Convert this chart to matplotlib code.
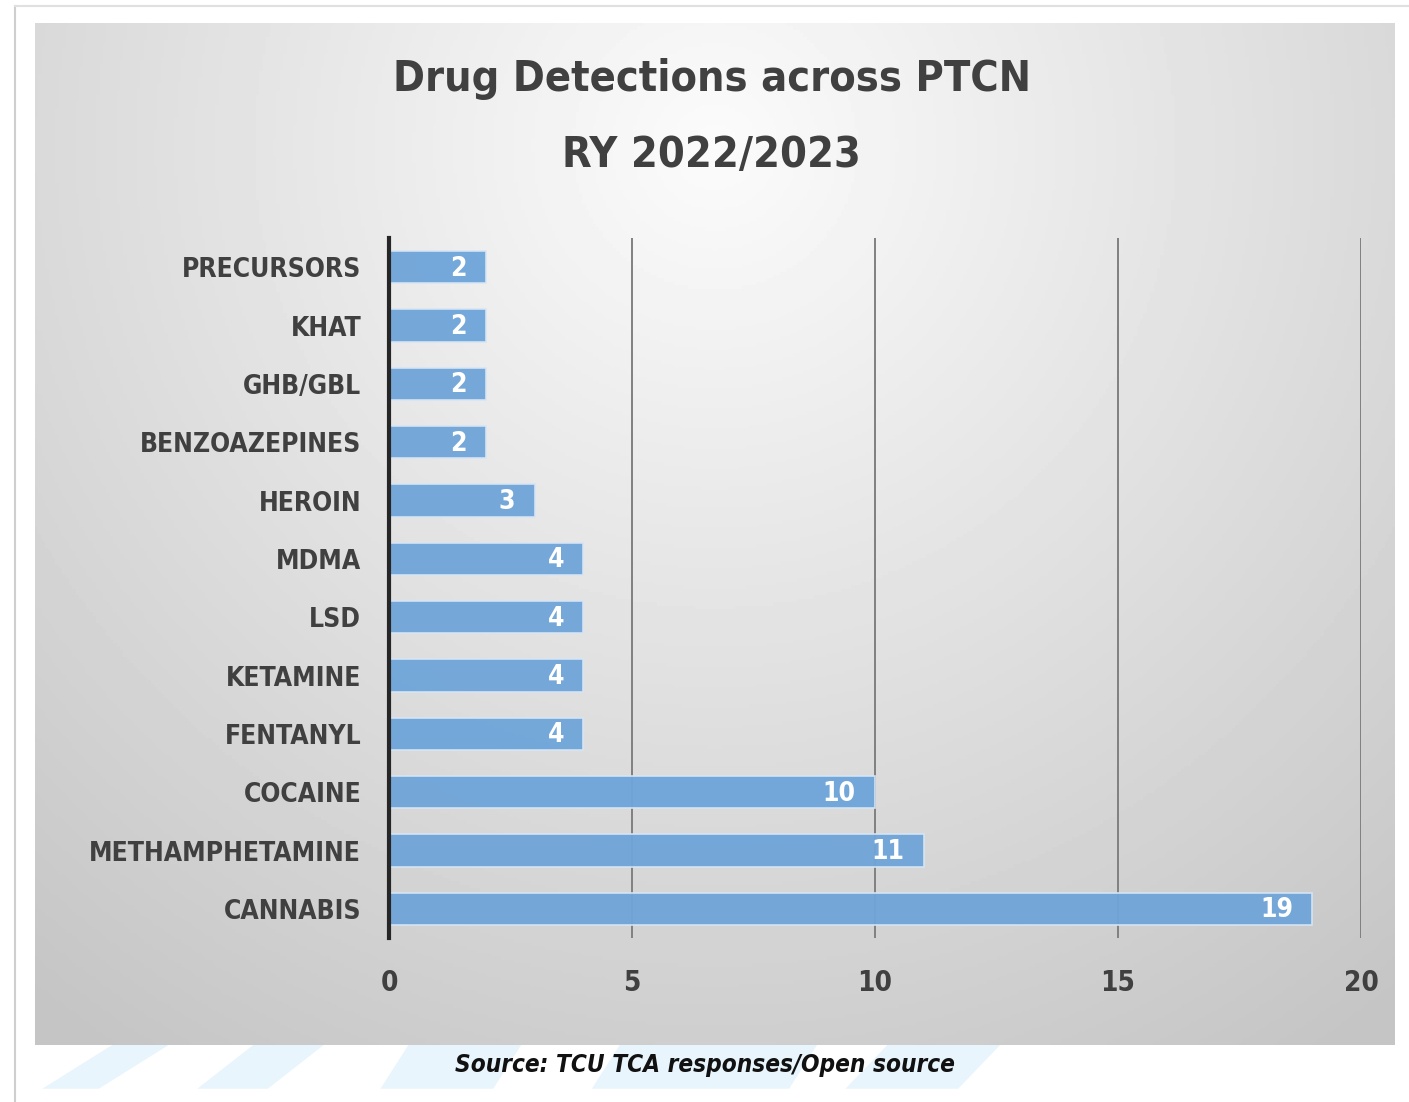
import numpy as np
import matplotlib.pyplot as plt
from matplotlib.patches import Polygon
from matplotlib.lines import Line2D

plt.rcParams['font.family'] = ['DejaVu Sans Condensed', 'DejaVu Sans']
plt.rcParams['font.stretch'] = 'condensed'

# data (bottom to top)
drugs = ['CANNABIS', 'METHAMPHETAMINE', 'COCAINE', 'FENTANYL', 'KETAMINE',
         'LSD', 'MDMA', 'HEROIN', 'BENZOAZEPINES', 'GHB/GBL', 'KHAT',
         'PRECURSORS']
counts = [19, 11, 10, 4, 4, 4, 4, 3, 2, 2, 2, 2]
xticks = [0, 5, 10, 15, 20]

txtcol = '#404040'
barcol = '#6fa5d9'

fig = plt.figure(figsize=(14.09, 11.02), dpi=100)

# outer frame
fig.add_artist(Line2D([0.011, 0.011], [0.0, 0.995], color='#cfcfcf', lw=1.5,
                      transform=fig.transFigure))
fig.add_artist(Line2D([0.011, 1.0], [0.995, 0.995], color='#e0e0e0', lw=1.5,
                      transform=fig.transFigure))

# watermark shapes under the panel
wm = '#e8f5fc'
for pts in [[(0.03, 0.012), (0.07, 0.012), (0.12, 0.052), (0.08, 0.052)],
            [(0.14, 0.012), (0.19, 0.012), (0.23, 0.052), (0.18, 0.052)],
            [(0.27, 0.012), (0.35, 0.012), (0.37, 0.052), (0.29, 0.052)],
            [(0.42, 0.012), (0.56, 0.012), (0.58, 0.052), (0.44, 0.052)],
            [(0.60, 0.012), (0.68, 0.012), (0.71, 0.052), (0.63, 0.052)]]:
    fig.add_artist(Polygon(pts, closed=True, color=wm, lw=0,
                           transform=fig.transFigure, zorder=0))

# gray radial gradient panel
bg = fig.add_axes([0.0248, 0.0517, 0.9652, 0.9274], zorder=0)
gx, gy = np.meshgrid(np.linspace(0, 1, 400), np.linspace(0, 1, 300))
r = np.sqrt(((gx - 0.5) / 0.75) ** 2 + ((gy - 0.12) / 1.0) ** 2)
shade = np.clip(0.985 - 0.2 * r, 0.77, 1)
bg.imshow(shade, cmap='gray', vmin=0, vmax=1, aspect='auto',
          extent=[0, 1, 1, 0])
bg.axis('off')

ax = fig.add_axes([0.2761, 0.1488, 0.6898, 0.6352], zorder=1)
ax.patch.set_alpha(0)

y = np.arange(len(drugs))
bars = ax.barh(y, counts, height=0.55, color=barcol, edgecolor='#d6e6f5',
               linewidth=1.2, alpha=0.95, zorder=3)
for yi, v in zip(y, counts):
    ax.annotate(str(v), (v, yi), xytext=(-14, -1), textcoords='offset points',
                ha='right', va='center', color='white', fontsize=19,
                fontweight='bold', zorder=4)

ax.set_xlim(0, 20)
ax.set_ylim(-0.5, len(drugs) - 0.5)
ax.set_xticks(xticks)
ax.set_yticks(y)
ax.set_yticklabels(drugs)
for gxv in xticks[1:]:
    ax.axvline(gxv, color='#808080', lw=1.4, zorder=1)

for s in ['top', 'right', 'bottom']:
    ax.spines[s].set_visible(False)
ax.spines['left'].set_color('#262626')
ax.spines['left'].set_linewidth(3)
ax.spines['left'].set_zorder(5)

ax.tick_params(axis='both', length=0, labelsize=20, labelcolor=txtcol)
ax.tick_params(axis='y', labelsize=19)
ax.tick_params(axis='x', pad=22)
ax.tick_params(axis='y', pad=20)
for lab in ax.get_xticklabels() + ax.get_yticklabels():
    lab.set_fontweight('bold')

fig.text(0.505, 0.928, 'Drug Detections across PTCN', ha='center',
         va='center', fontsize=31, fontweight='bold', color=txtcol)
fig.text(0.505, 0.859, 'RY 2022/2023', ha='center', va='center',
         fontsize=31, fontweight='bold', color=txtcol)

fig.text(0.5, 0.034, 'Source: TCU TCA responses/Open source', ha='center',
         va='center', fontsize=17.5, fontweight='bold', fontstyle='italic',
         color='#111111')

fig.savefig('out.png', dpi=100)
